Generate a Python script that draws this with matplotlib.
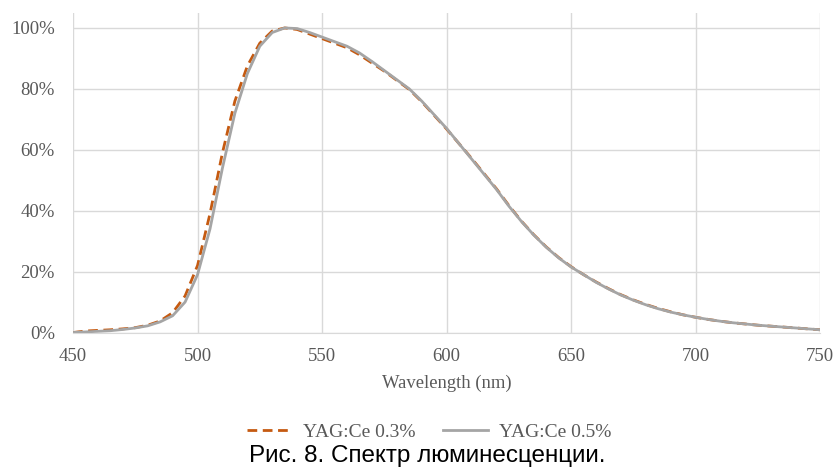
import matplotlib.pyplot as plt
import numpy as np
from matplotlib.ticker import PercentFormatter

# wavelength grid (nm)
wl = [450, 455, 460, 465, 470, 475, 480, 485, 490, 495,
      500, 505, 510, 515, 520, 525, 530, 535, 540, 545,
      550, 555, 560, 565, 570, 575, 580, 585, 590, 595,
      600, 605, 610, 615, 620, 625, 630, 635, 640, 645,
      650, 655, 660, 665, 670, 675, 680, 685, 690, 695,
      700, 705, 710, 715, 720, 725, 730, 735, 740, 745, 750]

# YAG:Ce 0.5% (grey, solid)
yag05 = [0.000, 0.002, 0.004, 0.006, 0.010, 0.015, 0.022, 0.035, 0.055, 0.100,
         0.190, 0.340, 0.540, 0.720, 0.850, 0.940, 0.985, 1.000, 0.998, 0.985,
         0.970, 0.955, 0.940, 0.918, 0.890, 0.860, 0.830, 0.800, 0.760, 0.715,
         0.670, 0.620, 0.570, 0.520, 0.470, 0.415, 0.365, 0.320, 0.280, 0.245,
         0.215, 0.190, 0.165, 0.143, 0.123, 0.106, 0.091, 0.078, 0.067, 0.058,
         0.050, 0.043, 0.037, 0.032, 0.028, 0.024, 0.021, 0.018, 0.015, 0.012, 0.009]

# YAG:Ce 0.3% (orange, dashed)
yag03 = [0.000, 0.005, 0.007, 0.009, 0.012, 0.016, 0.024, 0.038, 0.065, 0.120,
         0.220, 0.390, 0.590, 0.760, 0.875, 0.950, 0.990, 1.000, 0.995, 0.980,
         0.965, 0.950, 0.935, 0.912, 0.885, 0.858, 0.828, 0.798, 0.758, 0.713,
         0.668, 0.620, 0.572, 0.522, 0.472, 0.417, 0.366, 0.321, 0.281, 0.246,
         0.216, 0.190, 0.166, 0.144, 0.124, 0.107, 0.092, 0.079, 0.068, 0.058,
         0.050, 0.043, 0.037, 0.032, 0.028, 0.024, 0.021, 0.018, 0.015, 0.012, 0.009]

xticks = [450, 500, 550, 600, 650, 700, 750]
yticks = [0, 0.2, 0.4, 0.6, 0.8, 1.0]

serif = ['Liberation Serif', 'DejaVu Serif']
tick_col = '#595959'
grid_col = '#d9d9d9'

fig = plt.figure(figsize=(8.37, 4.71), dpi=100)
ax = fig.add_axes([0.0872, 0.294, 0.8928, 0.679])

ax.plot(wl, yag03, color='#c55a11', lw=2.0, dashes=(3.5, 2.0), label='YAG:Ce 0.3%')
ax.plot(wl, yag05, color='#a5a5a5', lw=2.0, label='YAG:Ce 0.5%')

ax.set_xlim(450, 750)
ax.set_ylim(0, 1.05)
ax.set_xticks(xticks)
ax.set_yticks(yticks)
ax.yaxis.set_major_formatter(PercentFormatter(1.0, decimals=0))
ax.grid(True, color=grid_col, lw=1.0)
ax.set_axisbelow(True)
for s in ['top', 'right', 'left']:
    ax.spines[s].set_visible(False)
ax.spines['bottom'].set_color(grid_col)
ax.tick_params(length=0, labelsize=13.5, labelcolor=tick_col)
ax.tick_params(axis='x', pad=11)
ax.tick_params(axis='y', pad=13)
for lab in ax.get_xticklabels() + ax.get_yticklabels():
    lab.set_family(serif)

ax.set_xlabel('Wavelength (nm)', fontsize=13.4, color=tick_col, family=serif, labelpad=7)

fig.legend(loc='center', bbox_to_anchor=(0.513, 0.083), ncol=2, frameon=False,
           prop={'family': serif, 'size': 14}, labelcolor=tick_col,
           handlelength=2.3, handletextpad=0.6, columnspacing=1.4)

fig.text(0.51, 0.031, 'Рис. 8. Спектр люминесценции.', ha='center', va='center',
         fontsize=17.5, family=['Liberation Sans', 'DejaVu Sans'], color='black')

fig.savefig('out.png', dpi=100)
